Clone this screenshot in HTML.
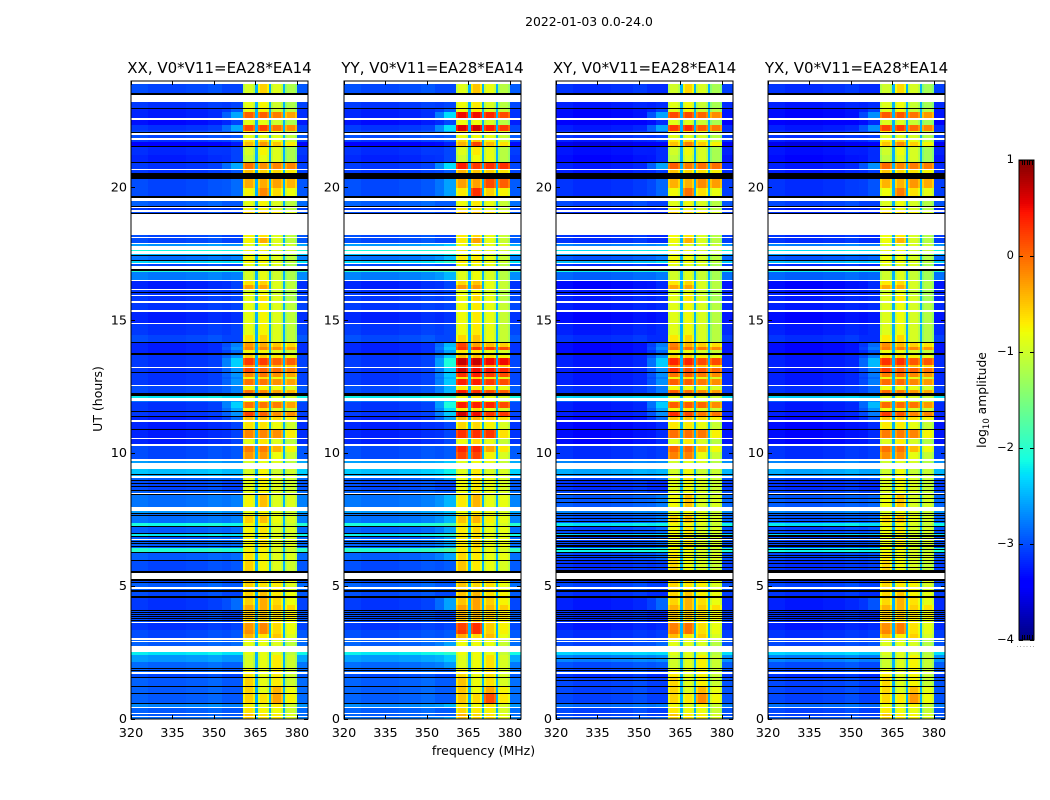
<!DOCTYPE html>
<html lang="en">
<head>
<meta charset="utf-8">
<title>2022-01-03 amplitude spectrogram</title>
<style>
html,body{margin:0;padding:0;background:#fff;width:1050px;height:800px;overflow:hidden}
svg{display:block}
text{font-family:"DejaVu Sans","Liberation Sans",sans-serif;fill:#000}
</style>
</head>
<body>
<svg id="chart" width="1050" height="800" viewBox="0 0 1050 800" xmlns="http://www.w3.org/2000/svg">
<text x="589" y="26" font-size="12.4" text-anchor="middle">2022-01-03 0.0-24.0</text>
<text transform="translate(102,399) rotate(-90)" font-size="12.5" text-anchor="middle">UT (hours)</text>
<text x="483.5" y="755" font-size="12.5" text-anchor="middle">frequency (MHz)</text>
<text transform="translate(986,400) rotate(-90)" font-size="12.3" text-anchor="middle">log<tspan font-size="8.5" dy="3">10</tspan><tspan dy="-3"> amplitude</tspan></text>
</svg>
<script>
/* ---------- data ---------- */
const panelTitles = ["XX, V0*V11=EA28*EA14", "YY, V0*V11=EA28*EA14", "XY, V0*V11=EA28*EA14", "YX, V0*V11=EA28*EA14"];
const freqTicks = [320, 335, 350, 365, 380];
const utTicks = [0, 5, 10, 15, 20];
const colorbarTicks = [1, 0, -1, -2, -3, -4];

/* per-baseline offsets, log10 amplitude */
const panelBlockGain = [0, 0.06, -0.03, -0.05];
const panelHotGain = [0, 0.4, 0.15, 0.1];
const panelRampGain = [0, 0.25, 0.1, 0];
const panelBackgroundOffset = [-0.05, -0.03, -0.17, -0.17];

/* frequency channel edges (MHz) and their role */
const freqEdges = [320, 326, 340, 348, 353, 356, 360.5, 361.3, 364, 364.8, 365.9, 366.6, 369.2, 369.9, 370.6, 371.3, 374.3, 375, 375.7, 376.4, 379.3, 380, 384];
const channelRole = ["low0", "low1", "low2", "low3", "rampLow", "ramp",
  "b0e", "b0", "b0e", "gap", "b1e", "b1", "b1e", "gap", "b2e", "b2", "b2e", "gap", "b3e", "b3", "b3e", "high"];
const lowChannelOffset = [0.05, 0, 0.03, 0.08];
const blockLift = [0.15, 0.15, 0.1, 0];
const gapLevel = -2.5;
const blockEdgeDrop = -0.2;
const highBandOffset = 0.1;

/* F = flagged (no data, white), K = below colour range (black) */
const F = null;
const K = "below";

/* additional thin below-range rows seen only in the cross-hands (UT hours) */
const crossHandBlackRows = [7.55, 7.45, 7.12, 6.92, 6.8, 6.55, 6.38, 6.18, 6.1, 5.85, 5.72, 5.62, 8.3, 8.15, 2.28, 1.45];
const crossHandPanels = [2, 3];

/* row start (UT hours), from the top of the plot downward; a row ends where the next begins */
const rowStartUT = [
24.00,23.89,23.55,23.48,23.21,22.99,22.95,22.84,22.61,22.55,22.35,22.12,22.07,22.03,21.97,21.86,21.78,21.69,21.56,21.52,
21.22,20.96,20.92,20.69,20.65,20.54,20.32,19.98,19.68,19.60,19.49,19.30,19.26,19.22,19.13,19.07,19.04,18.98,18.21,18.15,
18.10,17.91,17.85,17.80,17.64,17.61,17.49,17.45,17.42,17.27,17.23,17.16,17.12,17.04,16.91,16.87,16.82,16.52,16.48,16.33,
16.18,16.14,16.08,16.03,15.95,15.91,15.71,15.65,15.37,15.31,14.90,14.86,14.45,14.18,14.13,13.99,13.88,13.77,13.71,13.58,
13.32,13.24,13.19,13.05,13.00,12.87,12.79,12.58,12.53,12.38,12.27,12.15,12.08,11.96,11.92,11.70,11.59,11.55,11.40,11.36,
11.25,11.19,10.91,10.87,10.57,10.53,10.33,10.27,10.05,9.78,9.71,9.63,9.41,9.22,9.18,9.14,9.07,8.99,8.95,8.88,
8.84,8.77,8.73,8.62,8.58,8.52,8.47,8.43,7.99,7.84,7.75,7.71,7.68,7.64,7.37,7.26,7.22,7.00,6.96,6.88,
6.85,6.77,6.73,6.70,6.66,6.62,6.58,6.51,6.47,6.43,6.28,6.23,6.00,5.94,5.57,5.51,5.27,5.19,5.15,5.12,
4.97,4.89,4.85,4.78,4.61,4.57,4.29,4.10,4.06,4.03,3.99,3.95,3.91,3.88,3.84,3.80,3.76,3.72,3.69,3.67,
3.61,3.35,3.20,3.05,2.97,2.93,2.90,2.73,2.52,2.41,2.14,1.92,1.88,1.84,1.81,1.77,1.71,1.58,1.54,1.24,
1.20,0.98,0.94,0.60,0.56,0.45,0.41,0.24,0.17,0.11,0.08
];

/* log10 amplitude per row: [low band, ramp, block 1, block 2, block 3, block 4] */
const rowSpectrum = [
F,[-3.0,-3.0,-1.1,-0.7,-1.0,-1.2],K,F,[-3.1,-3.0,-1.0,-0.9,-1.1,-1.2],K,[-3.2,-2.9,-1.0,-0.9,-1.1,-1.1],[-3.2,-2.5,-0.1,-0.1,-0.2,-0.3],F,[-3.3,-3.0,-1.0,-1.0,-1.1,-1.2],
[-3.1,-2.5,0.0,0.05,-0.15,-0.2],[-3.0,-2.8,-0.8,-0.8,-0.9,-1.0],K,F,[-3.0,-2.9,-1.0,-1.0,-1.0,-1.1],F,[-3.1,-2.9,-0.8,-0.7,-0.9,-1.0],[-3.4,-3.2,-0.6,-0.4,-0.6,-0.7],K,[-3.15,-3.0,-1.1,-0.9,-1.0,-1.2],
[-3.2,-3.0,-1.2,-1.0,-1.0,-1.2],K,[-3.1,-2.5,-0.2,-0.35,-0.25,-0.15],F,[-3.1,-2.9,-0.6,-0.7,-0.7,-0.7],K,[-3.0,-2.8,-0.5,-0.5,-0.4,-0.4],[-3.0,-2.8,-0.9,-0.3,-0.7,-0.8],K,F,
[-2.9,-2.9,-1.0,-0.9,-1.0,-1.1],K,F,[-3.1,-3.0,-0.9,-0.9,-1.0,-1.1],F,[-3.0,-3.0,-0.7,-0.7,-0.8,-0.9],K,F,[-3.0,-3.0,-0.9,-0.8,-1.0,-1.1],F,
[-3.0,-3.0,-0.9,-0.5,-1.0,-1.1],F,[-2.6,-2.6,-1.0,-1.0,-1.0,-1.0],F,[-2.1,-2.1,-0.9,-0.9,-1.0,-1.0],F,[-2.4,-2.4,-1.0,-1.0,-1.1,-1.1],K,[-2.8,-2.7,-0.9,-0.9,-1.0,-1.1],K,
[-2.3,-2.2,-0.9,-0.9,-1.0,-1.1],F,[-3.0,-3.0,-1.0,-1.0,-1.0,-1.2],F,K,[-2.0,-2.0,-1.1,-1.0,-1.1,-1.2],[-2.75,-2.7,-1.1,-1.0,-1.1,-1.2],F,[-3.2,-3.0,-0.8,-0.7,-1.0,-1.1],[-3.2,-3.0,-0.45,-0.45,-1.0,-1.1],
F,[-3.1,-3.0,-1.1,-1.0,-1.1,-1.2],K,[-3.1,-3.0,-1.0,-0.9,-1.1,-1.2],F,[-3.1,-3.0,-1.0,-0.8,-1.0,-1.2],F,[-3.1,-3.0,-1.0,-0.9,-1.0,-1.1],F,[-3.2,-3.1,-1.0,-0.9,-1.0,-1.1],
F,[-3.1,-3.0,-1.0,-0.9,-1.0,-1.1],[-3.0,-3.0,-0.8,-0.7,-1.0,-1.1],K,[-3.2,-2.7,-0.4,-0.5,-0.6,-0.6],[-3.2,-2.6,-0.3,-0.3,-0.3,-0.3],[-3.2,-2.8,-0.9,-0.9,-1.0,-1.0],K,[-3.1,-2.6,-0.7,-0.7,-0.8,-0.8],[-3.1,-2.3,0.1,0.1,-0.05,0.05],
[-3.1,-2.3,-0.4,-0.4,-0.5,-0.5],F,[-3.1,-2.6,0.05,-0.1,-0.1,-0.1],K,[-3.1,-2.6,-0.3,-0.2,-0.3,-0.3],[-3.1,-2.7,-0.9,-0.8,-0.9,-0.9],[-3.1,-2.6,-0.2,-0.2,-0.3,-0.3],F,[-3.0,-2.7,-0.9,-0.9,-0.9,-0.9],[-3.0,-2.7,-0.2,-0.3,-0.4,-0.4],
K,[-2.2,-2.2,-1.0,-0.9,-1.0,-1.0],F,[-2.8,-2.5,-1.0,-0.9,-1.0,-1.0],[-3.1,-2.3,-0.2,-0.2,-0.2,-0.3],[-3.1,-2.5,-0.9,-0.8,-1.0,-1.0],K,[-3.1,-2.6,0.05,-0.1,-0.3,-0.2],K,[-3.2,-2.8,-0.6,-0.6,-0.7,-0.7],
F,[-3.2,-3.0,-0.8,-0.8,-0.9,-1.0],K,[-3.2,-3.0,-0.3,-0.3,-0.3,-0.7],F,[-3.2,-3.0,-1.0,-0.8,-1.0,-1.1],F,[-3.0,-2.9,-0.25,-0.25,-0.5,-0.75],[-3.0,-2.9,-0.4,-0.4,-0.9,-1.0],F,
[-2.6,-2.6,-1.1,-1.0,-1.0,-1.1],F,[-2.4,-2.4,-1.1,-0.9,-1.1,-1.0],K,[-2.5,-2.5,-1.0,-0.9,-1.0,-1.0],F,[-2.9,-2.8,-1.0,-0.8,-1.0,-1.0],K,[-3.0,-3.0,-1.0,-0.9,-1.0,-1.0],K,
[-3.0,-3.0,-1.0,-0.9,-1.0,-1.0],K,[-3.0,-3.0,-1.0,-0.9,-1.0,-1.0],K,[-2.9,-2.9,-1.0,-0.9,-1.0,-1.0],F,K,[-2.8,-2.7,-0.9,-0.6,-1.0,-0.9],F,[-2.6,-2.6,-1.0,-0.9,-1.0,-1.0],
K,[-2.8,-2.8,-1.0,-0.9,-1.0,-1.0],K,[-2.8,-2.7,-0.7,-0.6,-0.9,-0.9],[-2.1,-2.1,-0.9,-0.9,-1.0,-1.0],K,[-2.9,-2.8,-0.9,-0.8,-1.0,-0.9],K,[-2.2,-2.2,-0.9,-0.9,-1.0,-1.0],K,
[-2.9,-2.8,-0.9,-0.8,-1.0,-0.9],F,[-2.9,-2.8,-0.9,-0.8,-1.0,-0.9],K,[-2.9,-2.8,-0.9,-0.8,-1.0,-0.9],K,[-2.9,-2.8,-0.9,-0.8,-1.0,-0.9],K,[-2.9,-2.8,-0.9,-0.8,-1.0,-0.9],[-2.0,-2.0,-0.9,-0.9,-1.0,-1.0],
K,[-2.9,-2.8,-0.8,-0.9,-1.0,-0.9],K,[-3.0,-2.9,-0.7,-0.9,-1.0,-1.0],K,F,K,[-3.0,-3.0,-0.6,-0.7,-0.7,-0.8],K,[-2.9,-2.9,-0.7,-0.8,-0.8,-0.9],
F,[-2.9,-2.9,-0.7,-0.8,-0.8,-0.9],K,[-3.0,-3.0,-0.7,-0.6,-0.8,-0.8],K,[-3.1,-2.8,-0.7,-0.5,-0.7,-0.8],[-3.1,-2.8,-0.5,-0.5,-0.6,-0.6],K,[-3.0,-3.0,-0.7,-0.7,-0.8,-0.8],K,
[-3.0,-3.0,-0.6,-0.6,-0.7,-0.7],K,[-3.0,-3.0,-0.6,-0.6,-0.7,-0.7],K,[-3.0,-3.0,-0.6,-0.6,-0.7,-0.7],K,[-3.0,-3.0,-0.7,-0.7,-0.8,-0.8],K,[-3.0,-3.0,-0.7,-0.7,-0.8,-0.8],F,
[-3.1,-3.0,-0.4,-0.3,-0.7,-0.8],[-3.0,-2.9,-0.35,-0.3,-0.7,-0.8],[-3.0,-2.9,-0.55,-0.8,-0.6,-0.9],F,[-2.9,-2.9,-1.0,-1.0,-1.0,-1.1],F,[-2.9,-2.8,-1.0,-1.0,-1.0,-1.1],F,[-2.2,-2.2,-1.0,-1.0,-1.0,-1.1],[-2.6,-2.6,-1.1,-1.0,-0.8,-1.0],
[-2.85,-2.85,-1.1,-1.0,-0.8,-1.0],K,[-2.9,-2.9,-0.9,-1.0,-0.8,-1.0],K,[-2.9,-2.9,-0.9,-1.0,-0.8,-1.0],F,[-3.0,-3.0,-0.8,-1.0,-0.8,-1.0],K,[-2.9,-2.9,-0.7,-1.0,-0.8,-1.0],K,
[-2.9,-2.9,-0.7,-1.0,-0.5,-0.8],K,[-2.9,-2.9,-0.7,-0.8,-0.4,-0.75],K,[-2.7,-2.7,-0.9,-1.0,-0.8,-1.0],F,[-2.9,-2.9,-0.8,-0.9,-0.9,-1.0],F,[-2.9,-2.9,-0.6,-0.8,-0.8,-0.9],F,
[-2.8,-2.8,-0.7,-0.8,-0.8,-0.9]
];

/* ---------- layout and scales ---------- */
const svgNS = "http://www.w3.org/2000/svg";
const chart = document.getElementById("chart");
const panelLeft = [131, 344, 556, 768];
const plotWidth = 177, plotTop = 81, plotBottom = 719;
const freqMin = 320, freqMax = 384, utMin = 0, utMax = 24;
const cbLeft = 1019, cbRight = 1034, cbTop = 160, cbBottom = 640, cbMin = -4, cbMax = 1;
const tickLength = 4;

function xScale(panel, freq) { return panelLeft[panel] + (freq - freqMin) * plotWidth / (freqMax - freqMin); }
function yScale(ut) { return plotBottom - (ut - utMin) * (plotBottom - plotTop) / (utMax - utMin); }
function cbScale(level) { return cbBottom - (level - cbMin) * (cbBottom - cbTop) / (cbMax - cbMin); }

function interp(stops, t) {
  for (let i = 1; i < stops.length; i++) {
    if (t <= stops[i][0]) {
      const a = stops[i - 1], b = stops[i];
      return a[1] + (b[1] - a[1]) * (t - a[0]) / (b[0] - a[0]);
    }
  }
  return stops[stops.length - 1][1];
}
const jetR = [[0, 0], [0.35, 0], [0.66, 1], [0.89, 1], [1, 0.5]];
const jetG = [[0, 0], [0.125, 0], [0.375, 1], [0.64, 1], [0.91, 0], [1, 0]];
const jetB = [[0, 0.5], [0.11, 1], [0.34, 1], [0.65, 0], [1, 0]];
function jet(level) {
  const t = Math.min(1, Math.max(0, (level - cbMin) / (cbMax - cbMin)));
  return "rgb(" + Math.round(interp(jetR, t) * 255) + "," + Math.round(interp(jetG, t) * 255) + "," + Math.round(interp(jetB, t) * 255) + ")";
}

function addRect(parent, x, y, w, h, fill, name) {
  const el = document.createElementNS(svgNS, "rect");
  el.setAttribute("x", x);
  el.setAttribute("y", y);
  el.setAttribute("width", w);
  el.setAttribute("height", h);
  el.setAttribute("fill", fill);
  el.setAttribute("shape-rendering", "crispEdges");
  
  
  parent.appendChild(el);
  return el;
}
function addLine(parent, x1, y1, x2, y2, name) {
  const el = document.createElementNS(svgNS, "line");
  el.setAttribute("x1", x1);
  el.setAttribute("y1", y1);
  el.setAttribute("x2", x2);
  el.setAttribute("y2", y2);
  el.setAttribute("stroke", "#000");
  el.setAttribute("stroke-width", "1");
  
  
  parent.appendChild(el);
  return el;
}
function addText(parent, x, y, str, size, anchor, name) {
  const el = document.createElementNS(svgNS, "text");
  el.setAttribute("x", x);
  el.setAttribute("y", y);
  el.setAttribute("font-size", size);
  el.setAttribute("text-anchor", anchor);
  el.textContent = str;
  
  
  parent.appendChild(el);
  return el;
}
function addGroup(parent, name) {
  const el = document.createElementNS(svgNS, "g");
  
  
  parent.appendChild(el);
  return el;
}

function channelLevel(spectrum, role, panel) {
  const low = spectrum[0] + panelBackgroundOffset[panel];
  const ramp = spectrum[1] + panelRampGain[panel] * (spectrum[1] > -2.9 ? 1 : 0) + panelBackgroundOffset[panel];
  if (role.slice(0, 3) === "low") return low + lowChannelOffset[Number(role[3])];
  if (role === "rampLow") return (low + ramp) / 2;
  if (role === "ramp") return ramp;
  if (role === "gap") return gapLevel;
  if (role === "high") return low + highBandOffset;
  const index = Number(role[1]);
  const raw = spectrum[2 + index];
  const block = raw + blockLift[index] + panelBlockGain[panel] + (raw > -0.45 ? panelHotGain[panel] : 0);
  return role.length === 3 ? block + blockEdgeDrop : block;
}

/* ---------- panels ---------- */
panelTitles.forEach(function (title, panel) {
  const g = addGroup(chart, "panel-" + title.slice(0, 2).toLowerCase());
  const cells = addGroup(g, "heatmap-" + title.slice(0, 2).toLowerCase());
  rowSpectrum.forEach(function (spectrum, r) {
    const y0 = Math.round(yScale(rowStartUT[r]));
    const endUT = r + 1 < rowStartUT.length ? rowStartUT[r + 1] : utMin;
    const y1 = Math.round(yScale(endUT));
    const h = Math.max(1, y1 - y0);
    if (spectrum === F) return;
    if (spectrum === K) {
      addRect(cells, xScale(panel, freqMin), y0, plotWidth, h, "#000", "flagged-row");
      return;
    }
    channelRole.forEach(function (role, c) {
      const x0 = Math.round(xScale(panel, freqEdges[c]));
      const x1 = Math.round(xScale(panel, freqEdges[c + 1]));
      addRect(cells, x0, y0, x1 - x0, h, jet(channelLevel(spectrum, role, panel)), "heatmap-cell");
    });
  });
  if (crossHandPanels.indexOf(panel) >= 0) {
    crossHandBlackRows.forEach(function (ut) {
      addRect(cells, xScale(panel, freqMin), Math.round(yScale(ut)), plotWidth, 1, "#000", "flagged-row");
    });
  }

  const x0 = panelLeft[panel], x1 = panelLeft[panel] + plotWidth;
  const frame = document.createElementNS(svgNS, "rect");
  frame.setAttribute("x", x0);
  frame.setAttribute("y", plotTop);
  frame.setAttribute("width", plotWidth);
  frame.setAttribute("height", plotBottom - plotTop);
  frame.setAttribute("fill", "none");
  frame.setAttribute("stroke", "#000");
  frame.setAttribute("stroke-width", "1");
  
  
  g.appendChild(frame);

  freqTicks.forEach(function (f) {
    const x = Math.round(xScale(panel, f)) + 0.5;
    addLine(g, x, plotBottom, x, plotBottom - tickLength, "x-tick");
    addLine(g, x, plotTop, x, plotTop + tickLength, "x-tick-top");
    addText(g, xScale(panel, f), plotBottom + 18, String(f), 12.8, "middle", "x-tick-label");
  });
  utTicks.forEach(function (u) {
    const y = Math.round(yScale(u)) + 0.5;
    addLine(g, x0, y, x0 + tickLength, y, "y-tick");
    addLine(g, x1, y, x1 - tickLength, y, "y-tick-right");
    addText(g, x0 - 4, yScale(u) + 4, String(u), 12.8, "end", "y-tick-label");
  });
  addText(g, (x0 + x1) / 2, plotTop - 8, title, 15, "middle", "panel-title");
});

/* ---------- colour bar ---------- */
const cb = addGroup(chart, "colorbar");
for (let y = cbTop; y < cbBottom; y += 2) {
  const level = cbMax - (y + 1 - cbTop) * (cbMax - cbMin) / (cbBottom - cbTop);
  addRect(cb, cbLeft, y, cbRight - cbLeft, 2, jet(level), "colorbar-step");
}
const cbFrame = document.createElementNS(svgNS, "rect");
cbFrame.setAttribute("x", cbLeft);
cbFrame.setAttribute("y", cbTop);
cbFrame.setAttribute("width", cbRight - cbLeft);
cbFrame.setAttribute("height", cbBottom - cbTop);
cbFrame.setAttribute("fill", "none");
cbFrame.setAttribute("stroke", "#000");
cbFrame.setAttribute("stroke-width", "1");


cb.appendChild(cbFrame);
colorbarTicks.forEach(function (t) {
  const y = Math.round(cbScale(t)) + 0.5;
  addLine(cb, cbLeft, y, cbLeft + tickLength, y, "colorbar-tick");
  addLine(cb, cbRight, y, cbRight - tickLength, y, "colorbar-tick-right");
  const label = t < 0 ? "\u2212" + Math.abs(t) : String(t);
  addText(cb, cbLeft - 5, cbScale(t) + 3, label, 11.5, "end", "colorbar-tick-label");
});
for (let i = 1; i < 6; i++) {
  const x = Math.round(cbLeft + i * (cbRight - cbLeft) / 6) + 0.5;
  addLine(cb, x, cbTop, x, cbTop + tickLength + 1, "colorbar-minor-tick-top");
  addLine(cb, x, cbBottom, x, cbBottom - tickLength - 1, "colorbar-minor-tick-bottom");
}
for (let i = 0; i < 6; i++) {
  addRect(cb, 1017 + i * 3.2, 646, 1, 1, "#aaa", "colorbar-dot");
}
</script>
</body>
</html>
